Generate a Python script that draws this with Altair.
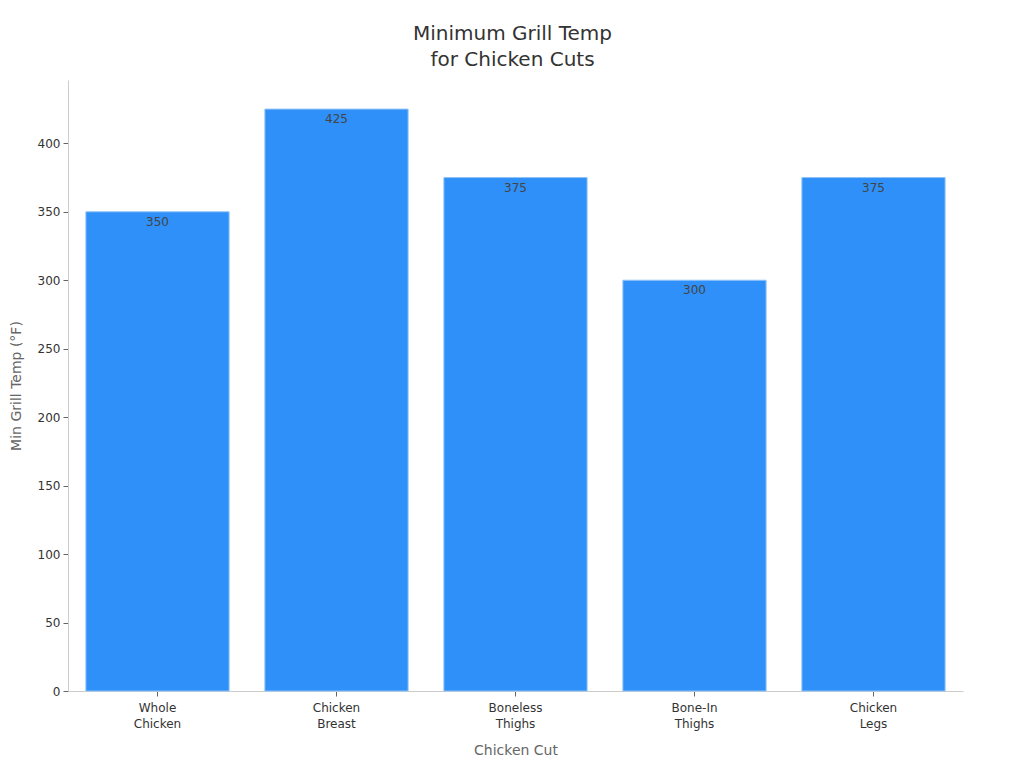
import altair as alt
import pandas as pd

cuts = ["Whole Chicken", "Chicken Breast", "Boneless Thighs", "Bone-In Thighs", "Chicken Legs"]
temps = [350, 425, 375, 300, 375]

df = pd.DataFrame({"cut": cuts, "temp": temps})

FONT = "DejaVu Sans"

x = alt.X(
    "cut:N",
    sort=cuts,
    title="Chicken Cut",
    scale=alt.Scale(paddingInner=0.2, paddingOuter=0.1),
    axis=alt.Axis(
        labelAngle=0,
        labelExpr="split(datum.label, ' ')",
        labelFontSize=12,
        labelColor="#333333",
        labelPadding=6,
        labelLineHeight=16,
        titleFontSize=14,
        titleColor="#666666",
        titleFontWeight="normal",
        titlePadding=14,
        domainColor="#cccccc",
        tickColor="#666666",
        tickSize=5,
    ),
)

y = alt.Y(
    "temp:Q",
    title="Min Grill Temp (°F)",
    scale=alt.Scale(domain=[0, 446.25], nice=False),
    axis=alt.Axis(
        values=[0, 50, 100, 150, 200, 250, 300, 350, 400],
        grid=False,
        labelFontSize=12,
        labelColor="#333333",
        labelPadding=3,
        titleFontSize=14,
        titleColor="#666666",
        titleFontWeight="normal",
        titlePadding=14,
        domainColor="#cccccc",
        tickColor="#666666",
        tickSize=5,
    ),
)

bars = alt.Chart(df).mark_bar(color="#2E90F8", stroke="#8FC3F7", strokeWidth=1).encode(x=x, y=y)

text = alt.Chart(df).mark_text(
    baseline="top", dy=5, fontSize=12, color="#444444", font=FONT
).encode(x=alt.X("cut:N", sort=cuts), y="temp:Q", text="temp:Q")

chart = (
    alt.layer(bars, text)
    .properties(
        width=895,
        height=611,
        title=alt.TitleParams(
            text=["Minimum Grill Temp", "for Chicken Cuts"],
            fontSize=20,
            fontWeight="normal",
            color="#333333",
            font=FONT,
            lineHeight=26,
            offset=10,
            dx=-3,
        ),
        padding={"left": 60, "top": 72, "right": 45, "bottom": 69},
        autosize=alt.AutoSizeParams(type="none"),
    )
    .configure(font=FONT)
    .configure_view(stroke=None)
)

chart.save("out.html", embed_options={"renderer": "svg", "actions": False})
